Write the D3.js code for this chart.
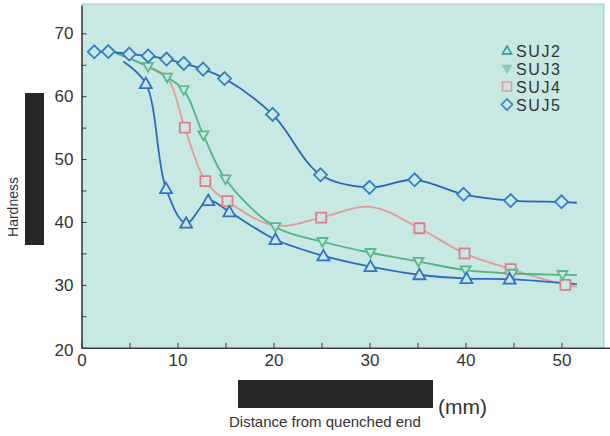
<!DOCTYPE html>
<html lang="en">
<head>
<meta charset="UTF-8">
<title>Jominy hardness curves</title>
<style>
    body { margin: 0; background: #fff; }
    svg { display: block; font-family: "Liberation Sans", Arial, sans-serif; }
    .axis path, .axis line { stroke: #3a3a3a; }
    .axis text { fill: #333; font-size: 17px; }
</style>
<script src="https://d3js.org/d3.v7.min.js"></script>
</head>
<body>
<div id="chart"></div>
<script>
// values (x in mm, y = hardness HRC)
// first / last entries without a marker are where the drawn curve starts / ends
const suj2X = [4.35, 6.7, 8.8, 10.9, 13.2, 15.4, 20.2, 25.2, 30.1, 35.2, 40.1, 44.6, 51.6];
const suj2Y = [65.5, 62.0, 45.3, 39.8, 43.4, 41.6, 37.2, 34.6, 32.9, 31.6, 31.0, 30.9, 30.1];
const suj2Mark = [0, 1, 1, 1, 1, 1, 1, 1, 1, 1, 1, 1, 0];

const suj3X = [3.66, 6.94, 8.92, 10.65, 12.7, 15.0, 20.2, 25.1, 30.1, 35.1, 40.0, 44.9, 50.1, 51.6];
const suj3Y = [66.8, 64.7, 63.0, 61.0, 53.8, 46.8, 39.2, 36.85, 35.1, 33.7, 32.35, 31.8, 31.6, 31.55];
const suj3Mark = [0, 1, 1, 1, 1, 1, 1, 1, 1, 1, 1, 1, 1, 0];

const suj4X = [3.66, 6.94, 8.92, 10.76, 12.9, 15.2, 20.2, 24.97, 30.1, 35.2, 39.9, 44.7, 50.4, 51.6];
const suj4Y = [66.8, 64.7, 63.0, 55.0, 46.5, 43.3, 39.4, 40.7, 42.4, 39.0, 35.0, 32.5, 30.0, 29.7];
const suj4Mark = [0, 0, 0, 1, 1, 1, 0, 1, 0, 1, 1, 1, 1, 0];

const suj5X = [1.33, 2.79, 4.97, 6.94, 8.86, 10.65, 12.66, 14.9, 19.9, 24.9, 30.0, 34.7, 39.8, 44.7, 50.0, 51.6];
const suj5Y = [67.06, 67.1, 66.7, 66.4, 65.9, 65.2, 64.3, 62.8, 57.1, 47.5, 45.5, 46.7, 44.4, 43.4, 43.2, 43.05];
const suj5Mark = [1, 1, 1, 1, 1, 1, 1, 1, 1, 1, 1, 1, 1, 1, 1, 0];

const seriesNames = ["SUJ2", "SUJ3", "SUJ4", "SUJ5"];
const xTicks = [0, 5, 10, 15, 20, 25, 30, 35, 40, 45, 50];
const yTicks = [20, 25, 30, 35, 40, 45, 50, 55, 60, 65, 70];

const W = 610, H = 436;
const svg = d3.select("#chart").append("svg").attr("width", W).attr("height", H);

const x = d3.scaleLinear().domain([0, 55.05]).range([81.5, 610]);
const y = d3.scaleLinear().domain([20, 74.5]).range([347.7, 5]);

// plot background
svg.append("rect")
    .attr("x", x(0)).attr("y", y(74.5) - 1)
    .attr("width", x(54.4) - x(0)).attr("height", y(20) - y(74.5) + 1)
    .attr("fill", "#c8e8e3");
svg.append("path")
    .attr("d", `M${x(0)},${y(74.5) - 1}H${x(54.4)}V${y(20)}`)
    .attr("fill", "none").attr("stroke", "#a9c4c0").attr("stroke-width", 1.2);

// axes
const xAxis = svg.append("g").attr("class", "axis")
    .attr("transform", `translate(0,${y(20)})`)
    .call(d3.axisBottom(x).tickValues(xTicks).tickSize(-5).tickSizeOuter(0).tickPadding(6)
        .tickFormat(d => d % 10 === 0 ? d : ""));
xAxis.select(".domain").attr("stroke-width", 1.6);

const yAxis = svg.append("g").attr("class", "axis")
    .attr("transform", `translate(${x(0)},0)`)
    .call(d3.axisLeft(y).tickValues(yTicks).tickSize(-5).tickSizeOuter(0).tickPadding(8)
        .tickFormat(d => d % 10 === 0 ? d : ""));
yAxis.select(".domain").attr("stroke-width", 1.6);
yAxis.selectAll(".tick").filter(d => d === 20).select("text").attr("dy", "0.45em");

// series
const series = [
    { xs: suj2X, ys: suj2Y, mk: suj2Mark, line: "#2b6cc0", stroke: "#2f74c4", shape: "up", size: 12 },
    { xs: suj3X, ys: suj3Y, mk: suj3Mark, line: "#4fb487", stroke: "#5cb98f", shape: "down", size: 10 },
    { xs: suj4X, ys: suj4Y, mk: suj4Mark, line: "#e59a94", stroke: "#e07c8a", shape: "square", size: 10 },
    { xs: suj5X, ys: suj5Y, mk: suj5Mark, line: "#2a66b4", stroke: "#2f7ec4", shape: "diamond", size: 13 }
];

const line = d3.line()
    .x(d => x(d[0])).y(d => y(d[1]))
    .curve(d3.curveCatmullRom.alpha(0.5));

function shapePath(shape, s) {
    const h = s / 2;
    if (shape === "up") return `M0,${-h}L${h},${h * 0.75}L${-h},${h * 0.75}Z`;
    if (shape === "down") return `M${-h},${-h * 0.75}L${h},${-h * 0.75}L0,${h}Z`;
    if (shape === "square") return `M${-h},${-h}H${h}V${h}H${-h}Z`;
    return `M0,${-h}L${h},0L0,${h}L${-h},0Z`;
}

// draw order: SUJ4, SUJ3, SUJ2, SUJ5
[2, 1, 0, 3].forEach(i => {
    const s = series[i];
    const pts = s.xs.map((v, j) => [v, s.ys[j]]);
    svg.append("path").datum(pts)
        .attr("d", line)
        .attr("fill", "none")
        .attr("stroke", s.line)
        .attr("stroke-width", 1.8);
});

[2, 1, 0, 3].forEach(i => {
    const s = series[i];
    const pts = s.xs.map((v, j) => [v, s.ys[j], s.mk[j]]).filter(d => d[2]);
    svg.append("g").selectAll("path")
        .data(pts).join("path")
        .attr("transform", d => `translate(${x(d[0])},${y(d[1])})`)
        .attr("d", shapePath(s.shape, s.size))
        .attr("fill", "#c8e8e3")
        .attr("stroke", s.stroke)
        .attr("stroke-width", 1.8);
});

// legend
const legendSym = [
    { shape: "up", color: "#2a9d9d", fill: "#c8e8e3", size: 9 },
    { shape: "down", color: "#8cc9ad", fill: "#8cc9ad", size: 8 },
    { shape: "square", color: "#e39aa2", fill: "none", size: 9 },
    { shape: "diamond", color: "#2f8ac4", fill: "#c8e8e3", size: 11 }
];
const lg = svg.append("g");
seriesNames.forEach((name, i) => {
    const cy = 50.5 + i * 18;
    lg.append("path")
        .attr("transform", `translate(507,${cy})`)
        .attr("d", shapePath(legendSym[i].shape, legendSym[i].size))
        .attr("fill", legendSym[i].fill)
        .attr("stroke", legendSym[i].color)
        .attr("stroke-width", 1.6);
    lg.append("text")
        .attr("x", 516).attr("y", cy + 6)
        .attr("font-size", 16).attr("letter-spacing", 1.6)
        .attr("font-weight", 500).attr("fill", "#333")
        .text(name);
});

// axis titles (with the dark blocks that cover them in the reference)
svg.append("rect").attr("x", 25).attr("y", 93).attr("width", 19).attr("height", 152).attr("fill", "#262626");
svg.append("text")
    .attr("transform", "translate(18,207) rotate(-90)")
    .attr("text-anchor", "middle")
    .attr("font-size", 14).attr("fill", "#333")
    .text("Hardness");

svg.append("rect").attr("x", 238).attr("y", 380).attr("width", 195).attr("height", 28).attr("fill", "#262626");
svg.append("text")
    .attr("x", 229).attr("y", 427)
    .attr("font-size", 15).attr("fill", "#333")
    .text("Distance from quenched end");
svg.append("text")
    .attr("x", 438).attr("y", 414)
    .attr("font-size", 21).attr("fill", "#333")
    .text("(mm)");
</script>
</body>
</html>
